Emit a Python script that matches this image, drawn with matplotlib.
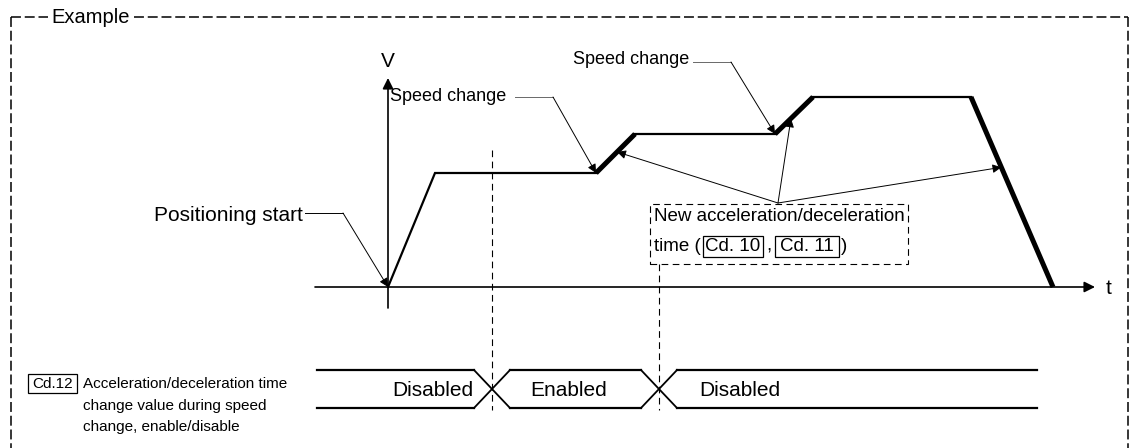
import matplotlib
matplotlib.use("Agg")
import matplotlib.pyplot as plt
from matplotlib.patches import Rectangle

plt.rcParams['font.family'] = ['Liberation Sans', 'DejaVu Sans']

# ==========================
# speed profile (time / speed, origin = axis crossing)
# ==========================
profile_t = [0, 47, 208, 247, 387, 425, 583, 665]
profile_v = [0, 114, 114, 153, 153, 190, 190, 0]
# segments drawn with the new accel/decel time (thick)
thick_segments = [(2, 3), (4, 5), (6, 7)]

# Cd.12 enable/disable signal
signal_states = ["Disabled", "Enabled", "Disabled"]
signal_switch_t = [104, 271]
signal_start_t = -71
signal_end_t = 649

fig = plt.figure(figsize=(11.31, 4.48), dpi=100)
ax = fig.add_axes([0, 0, 1, 1])
ax.set_xlim(-388, 743)
ax.set_ylim(-161, 287)
ax.axis("off")

FS = 15
ARROW = dict(arrowstyle="-|>", color="black", lw=0.7, mutation_scale=13,
             shrinkA=0, shrinkB=0)

# outer dashed frame
frame = dict(color="black", lw=1.1, dashes=(6.5, 2.5), clip_on=False)
ax.plot([-377, -377], [270, -165], **frame)
ax.plot([-377, -340], [270, 270], **frame)
ax.plot([-254, 740], [270, 270], **frame)
ax.plot([740, 740], [270, -165], **frame)
ax.text(-337, 270, "Example", fontsize=14.5, ha="left", va="center")

# axes of the speed diagram
ax.annotate("", xy=(707, 0), xytext=(-73, 0),
            arrowprops=dict(arrowstyle="-|>", color="black", lw=1.2,
                            mutation_scale=16, shrinkA=0, shrinkB=0))
ax.annotate("", xy=(0, 209), xytext=(0, -21),
            arrowprops=dict(arrowstyle="-|>", color="black", lw=1.2,
                            mutation_scale=16, shrinkA=0, shrinkB=0))
ax.text(0, 226, "V", fontsize=FS, ha="center", va="center")
ax.text(721, -1, "t", fontsize=FS, ha="center", va="center")

# speed profile
ax.plot(profile_t[:3], profile_v[:3], color="black", lw=1.6,
        solid_joinstyle="miter")
ax.plot(profile_t[3:5], profile_v[3:5], color="black", lw=1.6)
ax.plot(profile_t[5:7], profile_v[5:7], color="black", lw=1.6)
for i, j in thick_segments:
    ax.plot([profile_t[i], profile_t[j]], [profile_v[i], profile_v[j]],
            color="black", lw=3.6, solid_capstyle="butt")

# dashed switch lines
inner = dict(color="black", lw=0.8, dashes=(6, 4))
ax.plot([signal_switch_t[0]] * 2, [137, -123], **inner)
ax.plot([signal_switch_t[1]] * 2, [23, -123], **inner)

# Positioning start
ax.text(-85, 72, "Positioning start", fontsize=FS, ha="right", va="center")
ax.plot([-83, -45], [74, 74], color="black", lw=0.7)
ax.annotate("", xy=(profile_t[0], profile_v[0]), xytext=(-45, 74),
            arrowprops=ARROW)

# Speed change labels
ax.text(2, 191, "Speed change", fontsize=13, ha="left", va="center")
ax.plot([127, 165], [190, 190], color="dimgray", lw=0.7)
ax.annotate("", xy=(profile_t[2], profile_v[2]), xytext=(165, 190),
            arrowprops=ARROW)
ax.text(185, 228, "Speed change", fontsize=13, ha="left", va="center")
ax.plot([305, 343], [225, 225], color="dimgray", lw=0.7)
ax.annotate("", xy=(profile_t[4], profile_v[4]), xytext=(343, 225),
            arrowprops=ARROW)

# New acceleration/deceleration time box
ax.add_patch(Rectangle((262, 23), 258, 60, fill=False, edgecolor="black",
                       lw=0.8, linestyle=(0, (6, 4))))
ax.text(266, 71, "New acceleration/deceleration", fontsize=13.5,
        ha="left", va="center")
ax.text(266, 41, "time (", fontsize=13.5, ha="left", va="center")
for cx, name in [(345, "Cd. 10"), (417, "Cd. 11")]:
    ax.add_patch(Rectangle((cx - 30, 30), 60 + (4 if cx > 400 else 0), 21,
                           fill=False, edgecolor="black", lw=0.9))
    ax.text(cx + (2 if cx > 400 else 0), 41, name, fontsize=13.5,
            ha="center", va="center")
ax.text(378, 41, ",", fontsize=13.5, ha="left", va="center")
ax.text(453, 41, ")", fontsize=13.5, ha="left", va="center")

src = (390, 84)
for (i, j), frac in zip(thick_segments, [0.54, 0.42, 0.37]):
    tx = profile_t[i] + frac * (profile_t[j] - profile_t[i])
    ty = profile_v[i] + frac * (profile_v[j] - profile_v[i])
    ax.annotate("", xy=(tx, ty), xytext=src, arrowprops=ARROW)

# enable/disable signal
top, bot, half = -83, -121, 18
edges = [signal_start_t] + signal_switch_t + [signal_end_t]
for k in range(len(signal_states)):
    a = edges[k] + (half if k > 0 else 0)
    b = edges[k + 1] - (half if k < len(signal_states) - 1 else 0)
    ax.plot([a, b], [top, top], color="black", lw=1.6)
    ax.plot([a, b], [bot, bot], color="black", lw=1.6)
for s in signal_switch_t:
    ax.plot([s - half, s + half], [top, bot], color="black", lw=1.3)
    ax.plot([s - half, s + half], [bot, top], color="black", lw=1.3)
label_x = [45, 181, 352]
for x, name in zip(label_x, signal_states):
    ax.text(x, -104, name, fontsize=FS, ha="center", va="center")

# Cd.12 label
ax.add_patch(Rectangle((-360, -106), 49, 19, fill=False, edgecolor="black",
                       lw=0.9))
ax.text(-335.5, -97, "Cd.12", fontsize=11, ha="center", va="center")
ax.text(-305, -97, "Acceleration/deceleration time", fontsize=11,
        ha="left", va="center")
ax.text(-305, -119, "change value during speed", fontsize=11,
        ha="left", va="center")
ax.text(-305, -140, "change, enable/disable", fontsize=11,
        ha="left", va="center")

fig.savefig("out.png", dpi=100)
